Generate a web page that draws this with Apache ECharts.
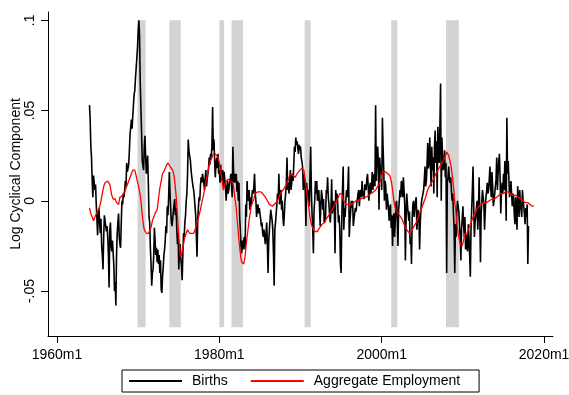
<!DOCTYPE html>
<html><head><meta charset="utf-8">
<script src="https://cdn.jsdelivr.net/npm/echarts@6/dist/echarts.min.js"></script>
<style>html,body{margin:0;padding:0;background:#fff}#c{width:569px;height:395px}</style>
</head><body><div id="c"></div>
<script>
// ---- data ----
const birthsStart = '1964m1';
const births = [
 .053,.045,.030,.024,.011,.002,.014,.010,.006,.009,-.002,-.010,
 -.019,-.008,-.004,-.012,-.018,-.010,-.025,-.030,-.038,-.020,-.008,-.011,
 -.010,-.017,-.014,-.020,-.030,-.048,-.016,-.012,-.025,-.028,-.022,-.029,
 -.036,-.050,-.045,-.058,-.030,-.018,-.012,-.007,-.020,-.024,-.026,-.012,
 .000,-.002,.004,.002,.006,.011,.008,.021,.016,.015,.020,.028,
 .037,.038,.045,.040,.047,.053,.059,.061,.068,.069,.079,.085,
 .094,.100,.092,.066,.065,.038,.022,.021,.017,.030,.036,.025,
 .015,.020,.025,.010,-.009,-.012,-.026,-.035,-.047,-.040,-.038,-.030,
 -.015,-.022,-.030,-.026,-.034,-.027,-.035,-.030,-.040,-.033,-.049,-.051,
 -.042,-.037,-.030,-.027,-.022,-.014,-.018,-.003,-.008,.002,.016,.005,
 -.004,-.012,-.014,-.010,-.009,-.002,.001,-.008,-.004,-.015,-.024,-.018,
 -.038,-.028,-.024,-.032,-.036,-.044,-.030,-.018,-.020,-.012,-.008,.000,
 .004,.015,.034,.028,.025,.023,.018,.014,.013,.008,.006,.002,
 -.003,-.008,-.020,-.031,-.010,-.004,.002,.000,.008,.013,.010,.015,
 .015,.010,.006,.012,.017,.008,.012,.011,.018,.024,.020,.026,
 .024,.030,.052,.028,.034,.022,.013,.020,.024,.018,.026,.015,
 .017,.010,.020,.011,.014,.017,.008,.016,.012,.008,.000,.006,
 .011,.004,.006,.010,.012,.015,.008,.002,.030,.016,.010,.015,
 .010,.015,.005,.011,.000,.010,-.009,-.016,-.025,-.029,-.022,-.027,
 -.022,-.020,-.027,-.002,-.009,.011,.000,.003,.006,-.005,.002,-.003,
 .002,.006,.004,.008,.015,.004,.000,-.009,-.004,-.002,-.007,-.004,
 -.007,-.010,-.014,-.012,-.018,-.020,-.016,-.021,-.024,-.018,-.012,-.025,
 -.040,-.022,-.016,-.010,-.005,-.008,-.011,-.016,-.030,-.047,-.016,-.012,
 -.007,-.002,.004,.001,.015,-.002,.004,.006,-.005,.000,-.009,-.014,
 -.008,.000,.004,.010,.024,.006,.010,.004,.012,.017,.006,.010,
 .015,.011,.020,.030,.027,.035,.031,.033,.029,.026,.031,.028,
 .030,.024,.022,.019,.006,.015,.011,.005,-.014,.010,.002,.006,
 .003,-.003,.015,.030,.006,-.007,-.015,-.029,-.005,.000,.011,.004,
 .011,.000,.004,.006,-.003,-.014,-.002,.006,.002,-.005,.001,-.012,
 -.012,-.009,.006,.004,.013,.002,-.002,-.008,-.012,-.004,.012,-.007,
 -.007,.000,-.005,-.029,.006,.000,.004,-.002,-.012,-.008,-.016,-.035,
 -.040,-.010,.006,.019,-.016,-.004,-.009,.000,.006,.002,.008,.019,
 -.020,-.012,-.006,.000,-.004,.000,-.014,-.010,-.009,-.004,-.006,-.002,
 -.002,.004,.006,-.003,.004,.006,.002,.011,.004,.005,.001,.009,
 .010,.006,.012,.015,.008,.000,.006,.010,.004,.009,.016,.006,
 .012,.015,.008,.053,.011,.025,.030,.021,-.005,.024,.017,.019,
 .006,.046,.030,.017,.000,.011,.008,-.005,.004,.000,-.004,-.011,
 -.004,-.002,-.015,-.008,-.025,-.010,-.007,-.020,-.012,-.002,.000,-.011,
 -.025,-.005,.000,.006,.002,.011,.008,.002,.013,.006,-.002,-.033,
 -.010,.004,-.002,-.002,-.011,-.006,-.024,-.020,-.035,-.010,-.002,.000,
 -.009,-.004,.000,.002,-.016,-.010,-.005,-.008,-.027,-.012,-.005,.000,
 .000,.004,.006,.012,.019,.008,.011,.020,.032,.018,.021,.035,
 .035,.008,.030,.017,.024,.004,.030,.039,.021,.033,.002,.041,
 .030,.021,.041,.065,.000,.035,.024,.017,.021,.028,.013,.021,
 -.040,.010,.013,.019,.012,.010,.013,.006,.000,.004,-.007,-.015,
 -.040,-.013,-.020,-.006,.000,-.003,-.006,-.013,-.020,-.033,-.016,-.010,
 -.003,-.012,-.020,-.009,-.027,-.018,-.025,-.028,-.013,-.020,-.030,-.042,
 -.016,-.005,.006,.019,-.003,-.020,-.012,-.009,-.004,.000,-.016,-.006,
 .013,-.009,-.034,-.007,.000,.006,.002,-.002,-.016,-.006,.002,.005,
 .010,.004,.006,.012,.019,.008,.002,.016,.008,-.003,.000,.004,
 .004,.012,.024,.006,.015,.022,.026,.013,-.007,.005,.010,.004,
 .015,.006,.022,.010,-.011,.046,.015,.022,.012,.002,.006,.011,
 .011,-.003,.004,.002,-.008,-.013,.002,-.006,-.016,.008,.000,-.009,
 .006,-.002,-.005,-.009,.006,.000,-.003,-.008,-.013,-.004,-.009,-.002,
 -.035,-.014
];
const employmentStart = '1964m1';
const employment = [
 -.004,-.005,-.007,-.008,-.009,-.010,-.011,-.012,-.010,-.008,-.009,-.007,
 -.006,-.005,-.004,-.003,-.002,.000,.002,.004,.006,.008,.009,.010,
 .010,.011,.011,.011,.010,.010,.009,.007,.005,.003,.002,.001,
 .001,.000,.001,.000,-.001,-.002,-.001,-.002,.000,.002,.001,.002,
 .002,.003,.003,.004,.005,.006,.007,.008,.009,.010,.011,.012,
 .013,.014,.015,.016,.017,.018,.018,.017,.016,.014,.012,.011,
 .009,.007,.005,.003,.000,-.004,-.008,-.011,-.014,-.016,-.017,-.017,
 -.018,-.018,-.019,-.018,-.018,-.017,-.016,-.015,-.013,-.011,-.010,-.009,
 -.008,-.007,-.007,-.006,-.005,-.002,.001,.004,.007,.009,.011,.013,
 .015,.016,.016,.017,.018,.019,.020,.020,.021,.021,.020,.019,
 .019,.018,.018,.017,.016,.014,.011,.007,.003,-.002,-.008,-.014,
 -.020,-.025,-.029,-.031,-.030,-.028,-.026,-.024,-.022,-.020,-.019,-.018,
 -.017,-.016,-.016,-.017,-.018,-.019,-.019,-.018,-.017,-.017,-.018,-.018,
 -.017,-.015,-.013,-.012,-.011,-.010,-.008,-.007,-.005,-.003,-.001,.000,
 .002,.004,.006,.008,.010,.012,.014,.016,.018,.020,.021,.022,
 .023,.024,.025,.026,.027,.027,.026,.026,.025,.025,.024,.023,
 .021,.018,.016,.014,.011,.008,.006,.007,.009,.010,.011,.011,
 .011,.012,.011,.011,.011,.010,.011,.011,.010,.008,.005,.001,
 -.001,-.004,-.009,-.013,-.018,-.022,-.026,-.029,-.032,-.034,-.035,-.035,
 -.035,-.033,-.031,-.027,-.023,-.020,-.017,-.014,-.011,-.008,-.006,-.003,
 -.002,-.001,.000,.001,.002,.004,.004,.005,.005,.005,.006,.005,
 .005,.005,.005,.005,.004,.004,.003,.003,.002,.002,.001,.000,
 -.001,-.001,-.002,-.002,-.002,-.002,-.003,-.002,-.002,-.002,-.002,-.002,
 -.001,.000,.000,.001,.002,.003,.003,.004,.005,.005,.006,.006,
 .007,.007,.008,.009,.010,.011,.012,.013,.014,.015,.015,.015,
 .015,.014,.014,.014,.013,.013,.014,.015,.015,.016,.016,.017,
 .017,.017,.018,.018,.019,.017,.014,.011,.008,.005,.002,.000,
 -.003,-.006,-.009,-.011,-.013,-.014,-.015,-.016,-.016,-.017,-.017,-.017,
 -.017,-.017,-.016,-.016,-.015,-.015,-.014,-.014,-.013,-.013,-.012,-.012,
 -.012,-.011,-.010,-.010,-.009,-.009,-.008,-.007,-.007,-.006,-.005,-.005,
 -.004,-.003,-.003,-.002,-.001,.000,.001,.001,.002,.003,.004,.004,
 .005,.004,.002,.001,.000,-.001,-.001,-.002,-.002,-.002,-.002,-.002,
 -.002,-.002,-.002,-.002,-.002,-.001,-.001,-.001,-.001,-.001,.000,.000,
 .000,.000,.000,.001,.001,.001,.000,.001,.001,.002,.002,.002,
 .002,.002,.002,.003,.003,.003,.004,.003,.004,.004,.005,.005,
 .005,.006,.006,.006,.007,.007,.008,.008,.009,.010,.011,.012,
 .014,.015,.016,.016,.017,.017,.016,.016,.016,.015,.014,.014,
 .014,.013,.011,.009,.006,.003,.000,-.002,-.004,-.005,-.006,-.006,
 -.007,-.007,-.008,-.008,-.009,-.009,-.010,-.011,-.012,-.013,-.014,-.015,
 -.015,-.016,-.016,-.017,-.017,-.018,-.018,-.017,-.017,-.016,-.016,-.015,
 -.014,-.013,-.013,-.012,-.011,-.010,-.009,-.008,-.007,-.006,-.005,-.004,
 -.003,-.002,-.001,.000,.001,.002,.003,.005,.006,.007,.007,.008,
 .009,.010,.010,.011,.011,.012,.013,.014,.015,.015,.016,.017,
 .018,.018,.019,.019,.020,.021,.021,.022,.023,.024,.025,.026,
 .027,.027,.026,.025,.024,.022,.020,.018,.015,.012,.008,.004,
 -.001,-.004,-.008,-.012,-.015,-.018,-.020,-.022,-.024,-.025,-.025,-.025,
 -.024,-.022,-.020,-.018,-.017,-.018,-.019,-.017,-.016,-.015,-.014,-.013,
 -.012,-.011,-.010,-.009,-.009,-.008,-.007,-.006,-.005,-.005,-.004,-.004,
 -.003,-.003,-.003,-.002,-.002,-.002,-.002,-.001,-.001,.000,.000,-.001,
 -.001,.000,.000,.000,.000,.001,.001,.001,.001,.001,.001,.001,
 .002,.002,.002,.002,.002,.003,.003,.003,.004,.004,.004,.004,
 .004,.005,.005,.005,.005,.005,.005,.005,.005,.005,.004,.004,
 .004,.004,.003,.003,.003,.003,.003,.003,.002,.002,.002,.002,
 .001,.001,.001,.000,.000,.000,.000,.000,-.001,-.001,-.001,-.001,
 -.001,-.001,-.001,-.002,-.002,-.002,-.002,-.003,-.003,-.003
];
const recessions = [
 ['1969m12','1970m11'], ['1973m11','1975m3'], ['1980m1','1980m7'],
 ['1981m7','1982m11'], ['1990m7','1991m3'], ['2001m3','2001m11'], ['2007m12','2009m6']
];
const recessionTop = 0.1, recessionBottom = -0.07;
const xTicks = [1960, 1980, 2000, 2020];
const xTickLabels = ['1960m1', '1980m1', '2000m1', '2020m1'];
const yTicks = [-0.05, 0, 0.05, 0.1];
const yTickLabels = ['-.05', '0', '.05', '.1'];
const seriesNames = ['Births', 'Aggregate Employment'];

// ---- helpers ----
function parseM(s) { const p = s.split('m').map(Number); return p[0] + (p[1] - 1) / 12; }
function monthly(start, vals) { const t0 = parseM(start); return vals.map((v, i) => [t0 + i / 12, v]); }
function lookup(ticks, labels, v) {
  let best = 0; for (let i = 1; i < ticks.length; i++) if (Math.abs(ticks[i] - v) < Math.abs(ticks[best] - v)) best = i;
  return labels[best];
}
const FONT = 'Arial, "Liberation Sans", Helvetica, sans-serif';

const chart = echarts.init(document.getElementById('c'), null, { renderer: 'canvas' });
chart.setOption({
  animation: false,
  backgroundColor: '#fff',
  grid: { left: 48, top: 12, width: 505, height: 324, containLabel: false, outerBoundsMode: 'none' },
  xAxis: {
    type: 'value', min: 1958.89, max: 2021.1,
    axisLine: { show: true, onZero: false, lineStyle: { color: '#000', width: 1 } },
    axisTick: { show: true, customValues: xTicks, length: 7, lineStyle: { color: '#000', width: 1 } },
    axisLabel: { show: true, customValues: xTicks, formatter: v => lookup(xTicks, xTickLabels, v),
      margin: 12, color: '#000', fontSize: 14, fontFamily: FONT },
    splitLine: { show: false }
  },
  yAxis: {
    type: 'value', min: -0.0749, max: 0.1046,
    name: 'Log Cyclical Component', nameLocation: 'middle', nameRotate: 90, nameGap: 25,
    nameMoveOverlap: false,
    nameTextStyle: { color: '#000', fontSize: 14, fontFamily: FONT },
    axisLine: { show: true, onZero: false, lineStyle: { color: '#000', width: 1 } },
    axisTick: { show: true, customValues: yTicks, length: 7, lineStyle: { color: '#000', width: 1 } },
    axisLabel: { show: true, customValues: yTicks, rotate: 90, formatter: v => lookup(yTicks, yTickLabels, v),
      margin: 11, color: '#000', fontSize: 14, fontFamily: FONT },
    splitLine: { show: false }
  },
  legend: {
    left: 122, top: 370, orient: 'horizontal',
    itemWidth: 53, itemHeight: 14, itemGap: 22,
    borderColor: '#000', borderWidth: 1, borderRadius: 0,
    padding: [4, 19, 4, 6],
    itemStyle: { opacity: 0 },
    textStyle: { color: '#000', fontSize: 14, fontFamily: FONT, padding: [0, 0, 0, 5] },
    data: seriesNames
  },
  series: [
    {
      type: 'line', name: '_rec', data: [], silent: true, z: 0,
      markArea: {
        silent: true,
        itemStyle: { color: '#d3d3d3' },
        data: recessions.map(r => [
          { xAxis: parseM(r[0]), yAxis: recessionTop },
          { xAxis: parseM(r[1]) + 1 / 12, yAxis: recessionBottom }
        ])
      }
    },
    {
      type: 'line', name: seriesNames[0], data: monthly(birthsStart, births),
      symbol: 'none', z: 2, lineStyle: { color: '#000', width: 1.6 }, itemStyle: { color: '#000' }
    },
    {
      type: 'line', name: seriesNames[1], data: monthly(employmentStart, employment),
      symbol: 'none', z: 3, lineStyle: { color: '#ff0000', width: 1.3 }, itemStyle: { color: '#ff0000' }
    }
  ]
});
</script>
</body></html>
